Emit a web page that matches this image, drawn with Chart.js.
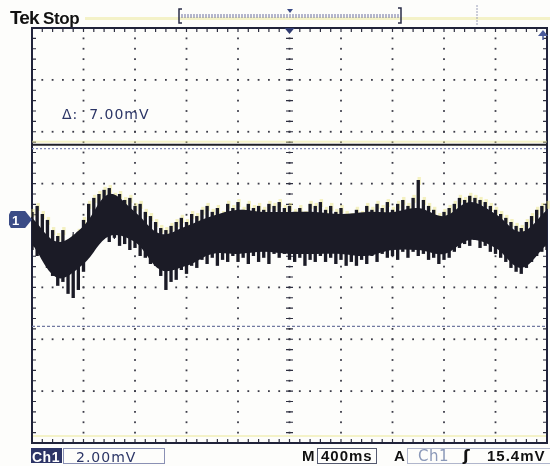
<!DOCTYPE html>
<html><head><meta charset="utf-8">
<script src="https://cdn.jsdelivr.net/npm/chart.js@4/dist/chart.umd.min.js"></script>
<style>
body{margin:0;background:#fdfdfb;}
#wrap{position:relative;width:550px;height:466px;overflow:hidden;background:#fdfdfb;}
canvas{position:absolute;left:0;top:0;}
.t{position:absolute;white-space:nowrap;line-height:1;}
.box{position:absolute;box-sizing:border-box;border:1px solid #8a90b4;}
</style></head><body>
<div id="wrap">
<canvas id="c" width="550" height="466"></canvas>
<div class="t" style="left:10px;top:7px;font:bold 19px 'Liberation Sans',Arial;letter-spacing:-0.9px;color:#111">Tek<span style="font-size:17px;letter-spacing:-0.4px"> Stop</span></div>
<div class="t" style="left:62px;top:106px;font:14px 'DejaVu Sans';letter-spacing:1px;color:#2b3566">Δ:&nbsp;&nbsp;7.00mV</div>
<div id="mark1" style="position:absolute;left:9px;top:211px;width:23px;height:17px;background:#3b4c86;clip-path:polygon(0 20%,8% 0,70% 0,100% 50%,70% 100%,8% 100%,0 80%);"></div>
<div class="t" style="left:12px;top:213px;font:bold 13px 'Liberation Sans';color:#fff">1</div>
<div class="t" style="left:31px;top:448px;width:31px;height:15px;background:#2c3466;"></div>
<div class="t" style="left:32px;top:449px;font:bold 14px 'Liberation Sans';color:#fff;letter-spacing:0.5px">Ch1</div>
<div class="box" style="left:63px;top:448px;width:102px;height:16px;"></div>
<div class="t" style="left:76px;top:449px;font:14px 'DejaVu Sans';letter-spacing:1px;color:#2b3566">2.00mV</div>
<div class="t" style="left:302px;top:447px;font:bold 15px 'Liberation Sans';color:#111">M</div>
<div class="box" style="left:317px;top:448px;width:60px;height:16px;border-color:#555a70"></div>
<div class="t" style="left:321px;top:447px;font:bold 15px 'Liberation Sans';letter-spacing:1px;color:#111">400ms</div>
<div class="t" style="left:394px;top:447px;font:bold 15px 'Liberation Sans';color:#111">A</div>
<div class="box" style="left:407px;top:448px;width:150px;height:16px;border-color:#b0b6cc"></div>
<div class="t" style="left:418px;top:447px;font:15px 'DejaVu Sans';letter-spacing:0.5px;color:#8a98b8">Ch1</div>
<div class="t" style="left:463px;top:446px;font:bold 16px 'DejaVu Sans';color:#111">ʃ</div>
<div class="t" style="left:487px;top:447px;font:bold 15px 'Liberation Sans';letter-spacing:1px;color:#111">15.4mV</div>
</div>
<script>
// Horizontal: 400 ms/div, 10 divisions; vertical: 2.00 mV/div, 8 divisions (ground marker at 0 mV)
const timeDivs = [0,400,800,1200,1600,2000,2400,2800,3200,3600,4000];
const voltDivs = [-8.6,-6.6,-4.6,-2.6,-0.6,1.4,3.4,5.4,7.4];
const cursorLevels = [2.9, -4.1];   // delta = 7.00 mV

// Trace envelope, one column every 40 ms (mV)
const traceHigh = [0.31,0.54,0.23,0.00,-0.39,-0.62,-0.39,-0.85,-0.69,-0.46,
 0.00,0.62,0.85,1.00,1.16,1.23,0.93,1.00,0.77,0.85,
 0.54,0.62,0.31,0.15,-0.08,-0.31,-0.39,-0.23,-0.08,0.08,
 -0.08,0.23,0.15,0.39,0.54,0.31,0.46,0.23,0.62,0.46,
 0.69,0.39,0.62,0.46,0.54,0.39,0.62,0.54,0.69,0.46,
 0.54,0.31,0.46,0.23,0.62,0.54,0.69,0.39,0.54,0.31,
 0.46,0.23,0.15,0.39,0.23,0.54,0.39,0.62,0.46,0.69,
 0.39,0.62,0.77,0.54,0.85,1.54,0.77,0.54,0.39,0.15,
 0.31,0.46,0.62,0.85,0.77,0.93,0.85,0.77,0.69,0.54,
 0.39,0.23,0.08,-0.08,-0.23,-0.31,-0.08,0.15,0.39,0.54,0.62];
const traceLow = [-1.16,-1.39,-1.23,-1.85,-2.16,-2.54,-2.39,-2.85,-3.01,-2.70,
 -2.00,-1.39,-0.93,-0.77,-0.62,-0.85,-0.69,-1.00,-0.93,-1.16,
 -1.08,-1.39,-1.46,-1.70,-1.77,-2.16,-2.70,-2.39,-2.31,-1.93,
 -2.08,-1.77,-1.85,-1.54,-1.70,-1.46,-1.77,-1.54,-1.62,-1.39,
 -1.62,-1.46,-1.70,-1.39,-1.62,-1.46,-1.70,-1.31,-1.46,-1.31,
 -1.54,-1.62,-1.46,-1.77,-1.54,-1.62,-1.39,-1.62,-1.46,-1.70,
 -1.54,-1.77,-1.62,-1.77,-1.54,-1.70,-1.39,-1.62,-1.31,-1.46,
 -1.39,-1.54,-1.23,-1.46,-1.23,-1.39,-1.31,-1.54,-1.46,-1.70,
 -1.54,-1.46,-1.23,-1.08,-0.93,-1.00,-0.77,-1.08,-1.00,-1.23,
 -1.31,-1.46,-1.62,-1.85,-2.00,-2.08,-1.85,-1.62,-1.39,-1.23,-1.16];
// Dense core of the trace, one point every 200 ms (mV)
const coreHigh = [0.08,-0.85,-0.23,1.00,0.31,-0.54,-0.23,0.15,0.39,0.31,0.31,0.31,0.23,0.31,0.31,0.46,0.15,0.69,0.23,-0.46,0.39];
const coreLow  = [-0.93,-2.24,-1.70,-0.62,-0.85,-1.93,-1.77,-1.31,-1.31,-1.23,-1.31,-1.31,-1.31,-1.39,-1.16,-1.16,-1.31,-0.77,-1.08,-1.85,-0.93];

const sampleTimes = traceHigh.map((_, i) => i * 40);
const coreTimes = coreHigh.map((_, i) => i * 200);

const INK = '#1b1b26';

const gratPlugin = {
  id: 'grat',
  beforeDatasetsDraw(chart) {
    const {ctx, chartArea: {left, right, top, bottom}, scales: {x, y}} = chart;
    ctx.save();
    const xMinor = [], yMinor = [];
    for (let i = 0; i < timeDivs.length - 1; i++) for (let k = 0; k < 5; k++) xMinor.push(timeDivs[i] + k * (timeDivs[i+1] - timeDivs[i]) / 5);
    xMinor.push(timeDivs[timeDivs.length-1]);
    for (let i = 0; i < voltDivs.length - 1; i++) for (let k = 0; k < 5; k++) yMinor.push(voltDivs[i] + k * (voltDivs[i+1] - voltDivs[i]) / 5);
    yMinor.push(voltDivs[voltDivs.length-1]);
    const cx = x.getPixelForValue(timeDivs[5]), cy = y.getPixelForValue(voltDivs[4]);
    ctx.fillStyle = 'rgba(236,232,150,0.5)';
    ctx.fillRect(85, 17, 465, 3);
    ctx.fillRect(left, bottom - 8, right - left, 2);
    ctx.fillStyle = '#3c3c48';
    timeDivs.slice(1, -1).forEach(v => {
      const px = x.getPixelForValue(v);
      yMinor.forEach(w => ctx.fillRect(px - 0.9, y.getPixelForValue(w) - 0.9, 1.8, 1.8));
    });
    voltDivs.slice(1, -1).forEach(v => {
      const py = y.getPixelForValue(v);
      xMinor.forEach(w => ctx.fillRect(x.getPixelForValue(w) - 0.9, py - 0.9, 1.8, 1.8));
    });
    ctx.strokeStyle = '#2e2f40';
    ctx.lineWidth = 1.2;
    ctx.beginPath();
    yMinor.forEach(w => { const py = y.getPixelForValue(w); ctx.moveTo(cx - 3.5, py); ctx.lineTo(cx + 3.5, py); });
    xMinor.forEach(w => { const px = x.getPixelForValue(w); ctx.moveTo(px, cy - 3.5); ctx.lineTo(px, cy + 3.5); });
    xMinor.forEach(w => { const px = x.getPixelForValue(w); ctx.moveTo(px, top); ctx.lineTo(px, top + 4); ctx.moveTo(px, bottom); ctx.lineTo(px, bottom - 4); });
    yMinor.forEach(w => { const py = y.getPixelForValue(w); ctx.moveTo(left, py); ctx.lineTo(left + 4, py); ctx.moveTo(right, py); ctx.lineTo(right - 4, py); });
    ctx.stroke();
    ctx.strokeStyle = '#20233a';
    ctx.lineWidth = 2;
    ctx.strokeRect(left, top, right - left, bottom - top);
    const meta = chart.getDatasetMeta(2);
    ctx.fillStyle = 'rgba(232,226,120,0.45)';
    meta.data.forEach(el => {
      const t = Math.min(el.y, el.base);
      ctx.fillRect(el.x - el.width / 2 + 1, t - 3, el.width, 8);
    });
    ctx.restore();
  },
  afterDatasetsDraw(chart) {
    const {ctx, chartArea: {left, right, top}, scales: {x, y}} = chart;
    ctx.save();
    const y1 = y.getPixelForValue(cursorLevels[0]);
    const y2 = y.getPixelForValue(cursorLevels[1]);
    ctx.fillStyle = 'rgba(236,232,150,0.5)';
    ctx.fillRect(left, y1 - 4, right - left, 2);
    ctx.strokeStyle = '#202028';
    ctx.lineWidth = 2;
    ctx.beginPath(); ctx.moveTo(left, y1); ctx.lineTo(right, y1); ctx.stroke();
    ctx.strokeStyle = '#8088b8';
    ctx.lineWidth = 1.2;
    ctx.setLineDash([2, 2]);
    ctx.beginPath(); ctx.moveTo(left, y1 + 4); ctx.lineTo(right, y1 + 4); ctx.stroke();
    ctx.strokeStyle = '#7078a0';
    ctx.setLineDash([3, 2]);
    ctx.beginPath(); ctx.moveTo(left, y2); ctx.lineTo(right, y2); ctx.stroke();
    ctx.setLineDash([]);
    const cx = x.getPixelForValue(timeDivs[5]);
    ctx.fillStyle = '#2f3a70';
    ctx.beginPath(); ctx.moveTo(cx - 5, top); ctx.lineTo(cx + 5, top); ctx.lineTo(cx, top + 6); ctx.closePath(); ctx.fill();
    ctx.strokeStyle = '#4a5a9a'; ctx.fillStyle = '#4a5a9a'; ctx.lineWidth = 1.5;
    ctx.beginPath(); ctx.moveTo(right - 4, top + 2); ctx.lineTo(right - 9, top + 8); ctx.lineTo(right + 1, top + 8); ctx.closePath(); ctx.fill();
    ctx.beginPath(); ctx.moveTo(right - 4, top + 8); ctx.lineTo(right - 4, top + 12); ctx.stroke();
    ctx.strokeStyle = '#2a2d48'; ctx.lineWidth = 1.5;
    ctx.beginPath();
    ctx.moveTo(182, 9); ctx.lineTo(179, 9); ctx.lineTo(179, 23); ctx.lineTo(182, 23);
    ctx.moveTo(398, 8); ctx.lineTo(401, 8); ctx.lineTo(401, 23); ctx.lineTo(398, 23);
    ctx.stroke();
    ctx.strokeStyle = '#6c70a0'; ctx.lineWidth = 1;
    ctx.setLineDash([2, 1]);
    ctx.beginPath(); ctx.moveTo(181, 15); ctx.lineTo(400, 15); ctx.moveTo(181, 17); ctx.lineTo(400, 17); ctx.stroke();
    ctx.strokeStyle = '#9a9eb8';
    ctx.beginPath(); ctx.moveTo(477, 5); ctx.lineTo(477, 26); ctx.stroke();
    ctx.setLineDash([]);
    ctx.fillStyle = '#3a4a86';
    ctx.beginPath(); ctx.moveTo(287, 9); ctx.lineTo(293, 9); ctx.lineTo(290, 13); ctx.closePath(); ctx.fill();
    ctx.restore();
  }
};

new Chart(document.getElementById('c'), {
  type: 'bar',
  data: {
    datasets: [
      { type: 'line', label: 'core high', data: coreTimes.map((t, i) => ({x: t, y: coreHigh[i]})),
        borderWidth: 0, pointRadius: 0, tension: 0.35, fill: '+1', backgroundColor: INK, borderColor: INK },
      { type: 'line', label: 'core low', data: coreTimes.map((t, i) => ({x: t, y: coreLow[i]})),
        borderWidth: 0, pointRadius: 0, tension: 0.35, fill: false, borderColor: INK },
      { type: 'bar', label: 'Ch1', data: sampleTimes.map((t, i) => ({x: t, y: [traceLow[i], traceHigh[i]]})),
        backgroundColor: INK, borderWidth: 0, barPercentage: 0.65, categoryPercentage: 1, grouped: false }
    ]
  },
  options: {
    responsive: false,
    animation: false,
    devicePixelRatio: 1,
    layout: { padding: { left: 32, right: 3, top: 28, bottom: 23 } },
    plugins: { legend: { display: false }, tooltip: { enabled: false } },
    scales: {
      x: { type: 'linear', min: 0, max: 4000, offset: false, display: false },
      y: { min: -8.6, max: 7.4, display: false }
    }
  },
  plugins: [gratPlugin]
});
</script>
</body></html>
